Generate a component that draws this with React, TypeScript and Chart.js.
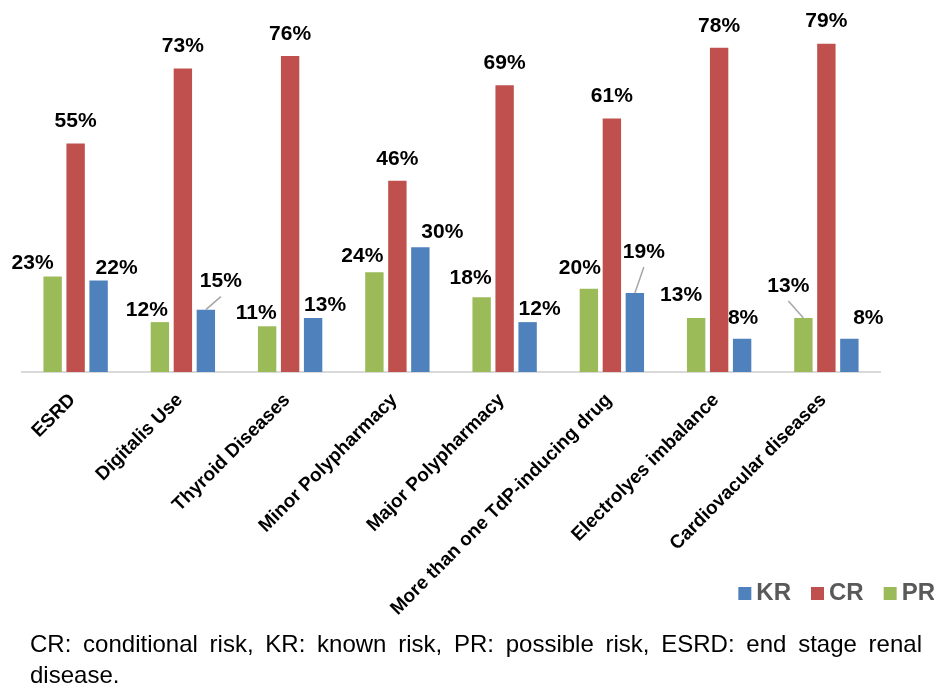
import React, { useEffect, useRef } from "react";
import { Chart, registerables } from "chart.js";

Chart.register(...registerables);

const categories = [
  "ESRD",
  "Digitalis Use",
  "Thyroid Diseases",
  "Minor Polypharmacy",
  "Major Polypharmacy",
  "More than one TdP-inducing drug",
  "Electrolyes imbalance",
  "Cardiovacular diseases",
];
const seriesNames = ["PR", "CR", "KR"];
const prValues = [23, 12, 11, 24, 18, 20, 13, 13];
const crValues = [55, 73, 76, 46, 69, 61, 78, 79];
const krValues = [22, 15, 13, 30, 12, 19, 8, 8];
const legendOrder = [2, 1, 0]; // KR, CR, PR
const captionText =
  "CR: conditional risk, KR: known risk, PR: possible risk, ESRD: end stage renal disease.";

// label nudges relative to bar top centre: [dx, dy, leaderLine]
const prLabelNudge = [
  [-20, -13, 0], [-13, -12, 0], [-11, -13, 0], [-12, -16, 0],
  [-11, -19, 0], [-9, -21, 0], [-15, -23, 0], [-15, -32, 1],
];
const crLabelNudge = [
  [0, -22, 0], [0, -22, 0], [0, -22, 0], [0, -22, 0],
  [0, -22, 0], [0, -22, 0], [0, -22, 0], [0, -22, 0],
];
const krLabelNudge = [
  [18, -12, 0], [15, -28, 1], [12, -13, 0], [22, -15, 0],
  [12, -13, 0], [9, -41, 1], [1, -21, 0], [19, -21, 0],
];

const FONT = '"Liberation Sans", Arial, Helvetica, sans-serif';
const COLORS = ["#9BBB59", "#C0504D", "#4F81BD"];

const valueLabelPlugin = {
  id: "valueLabels",
  afterDatasetsDraw(chart: any) {
    const ctx = chart.ctx;
    const nudges = [prLabelNudge, crLabelNudge, krLabelNudge];
    ctx.save();
    ctx.font = `bold 21px ${FONT}`;
    ctx.textAlign = "center";
    ctx.textBaseline = "middle";
    chart.data.datasets.forEach((ds: any, i: number) => {
      const meta = chart.getDatasetMeta(i);
      meta.data.forEach((bar: any, j: number) => {
        const [dx, dy, leader] = nudges[i][j];
        const x = bar.x;
        const y = bar.y;
        if (leader) {
          ctx.strokeStyle = "#a6a6a6";
          ctx.lineWidth = 1.5;
          ctx.beginPath();
          ctx.moveTo(x, y);
          ctx.lineTo(x + dx, y + dy + 15);
          ctx.stroke();
        }
        ctx.fillStyle = "#000";
        ctx.fillText(`${ds.data[j]}%`, x + dx, y + dy);
      });
    });
    ctx.restore();
  },
};

const legendPlugin = {
  id: "bottomRightLegend",
  afterDraw(chart: any) {
    const ctx = chart.ctx;
    const ds = chart.data.datasets;
    const box = 13;
    const gap = 5;
    const itemGap = 20;
    const right = chart.width + 1;
    const cy = 593.5;
    ctx.save();
    ctx.font = `bold 24px ${FONT}`;
    ctx.textAlign = "left";
    ctx.textBaseline = "middle";
    const widths = legendOrder.map(
      (i) => box + gap + ctx.measureText(ds[i].label).width
    );
    const total =
      widths.reduce((a: number, b: number) => a + b, 0) +
      itemGap * (widths.length - 1);
    let x = right - total;
    legendOrder.forEach((i, k) => {
      ctx.fillStyle = ds[i].backgroundColor;
      ctx.fillRect(x, cy - box / 2, box, box);
      ctx.fillStyle = "#595959";
      ctx.fillText(ds[i].label, x + box + gap, cy - 0.5);
      x += widths[k] + itemGap;
    });
    ctx.restore();
  },
};

export default function App() {
  const canvasRef = useRef<HTMLCanvasElement | null>(null);

  useEffect(() => {
    if (!canvasRef.current) return;
    const chart = new Chart(canvasRef.current, {
      type: "bar",
      data: {
        labels: categories,
        datasets: [prValues, crValues, krValues].map((vals, i) => ({
          label: seriesNames[i],
          data: vals,
          backgroundColor: COLORS[i],
          borderWidth: 0,
          barPercentage: 0.8,
          categoryPercentage: 0.643,
        })),
      },
      options: {
        responsive: false,
        animation: false,
        layout: { padding: { left: 22, top: 0, right: 0, bottom: 0 } },
        plugins: {
          legend: { display: false },
          tooltip: { enabled: false },
        },
        scales: {
          x: {
            grid: { display: false },
            border: { display: true, color: "#d9d9d9", width: 2 },
            ticks: {
              color: "#000",
              font: { family: FONT, size: 19, weight: "bold" },
              minRotation: 45,
              maxRotation: 45,
              autoSkip: false,
              padding: 9,
              labelOffset: -3,
            },
            afterFit: (s: any) => {
              s.height = 312;
            },
          },
          y: {
            position: "right",
            min: 0,
            max: 89.5,
            grid: { display: false },
            border: { display: false },
            ticks: { display: false },
            afterFit: (s: any) => {
              s.width = 54;
            },
          },
        },
      },
      plugins: [valueLabelPlugin, legendPlugin],
    } as any);
    return () => chart.destroy();
  }, []);

  return (
    <div
      style={{
        position: "absolute",
        left: 0,
        top: 0,
        width: 934,
        height: 684,
        overflow: "hidden",
        background: "#fff",
      }}
    >
      <canvas
        ref={canvasRef}
        width={934}
        height={684}
        style={{ display: "block", position: "absolute", left: 0, top: 0 }}
      />
      <div
        style={{
          position: "absolute",
          left: 30,
          top: 628,
          width: 892,
          fontFamily: FONT,
          fontSize: 24,
          lineHeight: "31px",
          color: "#000",
          textAlign: "justify",
        }}
      >
        {captionText}
      </div>
    </div>
  );
}
